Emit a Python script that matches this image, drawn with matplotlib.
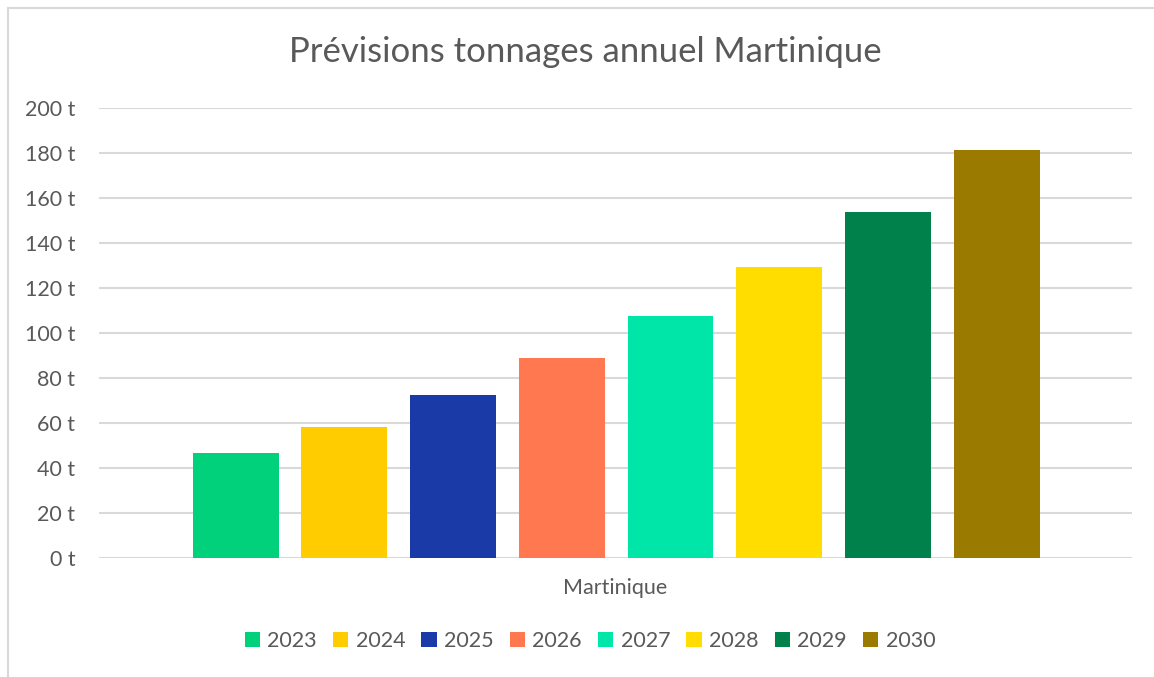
import numpy as np
import matplotlib
matplotlib.use("Agg")
from matplotlib import pyplot as plt
from matplotlib.patches import Rectangle

plt.rcParams['font.family'] = ['Lato', 'DejaVu Sans']

# data
years = ['2023', '2024', '2025', '2026', '2027', '2028', '2029', '2030']
tonnages = [46.7, 58.2, 72.4, 88.9, 107.6, 129.3, 153.8, 181.3]
colors = ['#00D17A', '#FFCC00', '#1A3AA8', '#FF7850', '#00E6A8', '#FFDD00', '#00804B', '#9A7B00']
category = 'Martinique'
yticks = [0, 20, 40, 60, 80, 100, 120, 140, 160, 180, 200]

grey = '#595959'
W, H = 1154, 677
fig = plt.figure(figsize=(W / 100, H / 100), dpi=100)

# chart frame (left and top edges visible)
fig.patches.append(Rectangle((8 / W, -0.01), 1.1, (H - 8) / H + 0.01, transform=fig.transFigure,
                             fill=False, edgecolor='#D9D9D9', linewidth=1.5))

ax = fig.add_axes([99 / W, (H - 558) / H, (1132 - 99) / W, 450 / H])
n = len(years)
offs = np.arange(n) - (n - 1) / 2
for i in range(n):
    ax.bar(offs[i], tonnages[i], width=0.79, color=colors[i], label=years[i], zorder=2)

ax.set_xlim(-4.756, 4.744)
ax.set_ylim(0, 200)
ax.set_yticks(yticks)
ax.set_yticklabels([f'{v} t' for v in yticks], color=grey, fontsize=15.5)
ax.tick_params(axis='y', length=0, pad=17)
ax.set_xticks([])
ax.grid(axis='y', color='#D9D9D9', linewidth=1.5, zorder=0)
for s in ax.spines.values():
    s.set_visible(False)

fig.text(615 / W, (H - 588) / H, category, ha='center', va='center', color=grey, fontsize=15.5)
fig.text(585 / W, (H - 52) / H, 'Prévisions tonnages annuel Martinique', ha='center', va='center',
         color=grey, fontsize=25)

fig.legend(loc='center', bbox_to_anchor=(590 / W, (H - 641) / H), ncol=n, frameon=False,
           fontsize=15.5, labelcolor=grey, handlelength=0.7, handleheight=0.7,
           handletextpad=0.35, columnspacing=0.75)

fig.savefig('out.png', dpi=100)
